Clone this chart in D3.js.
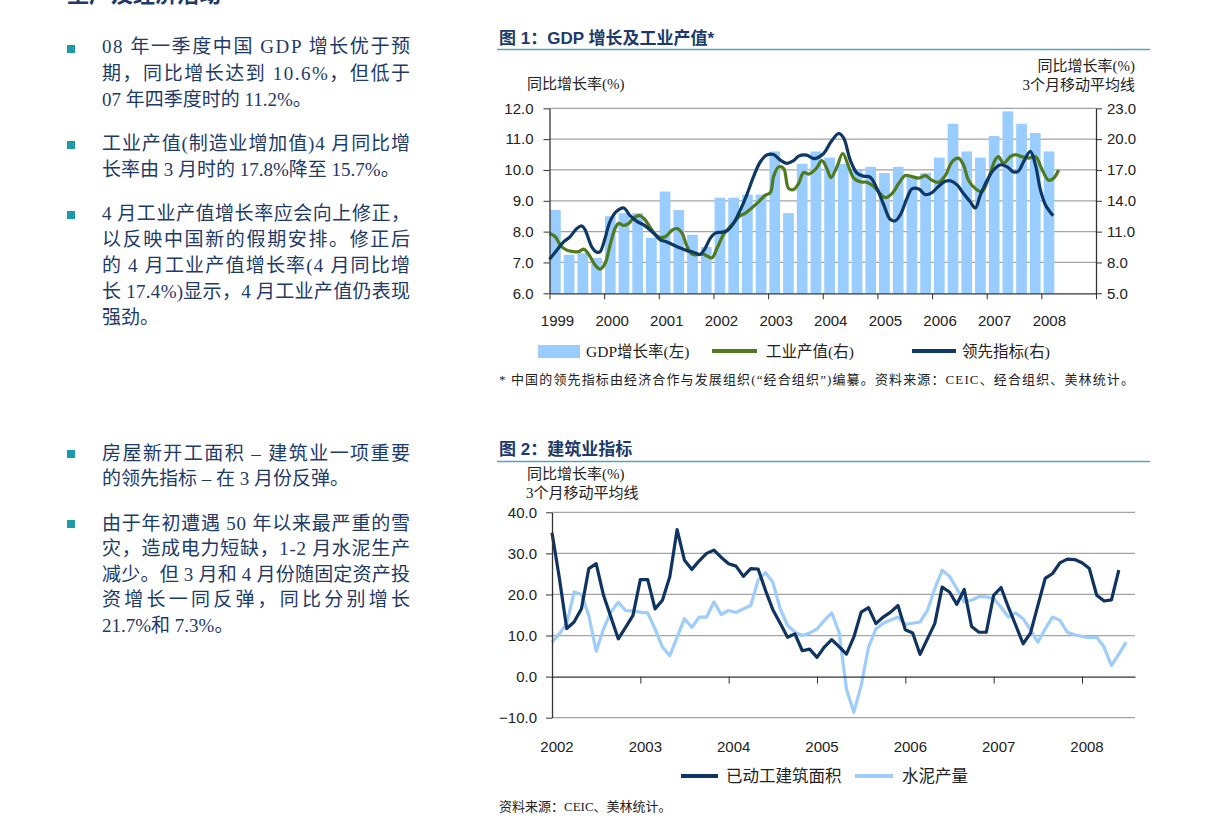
<!DOCTYPE html>
<html>
<head>
<meta charset="utf-8">
<style>
  body{ margin:0; background:#fff; }
  .body-text{ font-family:"Liberation Serif","Noto Sans CJK SC",serif; font-size:19px; fill:#1d3a68; }
  .heading{ font-family:"Noto Sans CJK SC",sans-serif; font-size:22px; font-weight:bold; fill:#1d3a68; }
  .fig-title{ font-family:"Liberation Sans Narrow","Liberation Sans","Noto Sans CJK SC",sans-serif; font-size:17px; font-weight:bold; fill:#1b3a6b; }
  .cap{ font-family:"Liberation Serif","Noto Sans CJK SC",serif; font-size:15px; fill:#222; }
  .legend{ font-family:"Liberation Serif","Noto Sans CJK SC",serif; font-size:15.5px; fill:#222; }
  .note{ font-family:"Liberation Serif","Noto Sans CJK SC",serif; font-size:13px; fill:#222; }
  .tick text, .year{ font-family:"Liberation Sans Narrow","Liberation Sans",sans-serif; font-size:15px; fill:#222; }
  .tick line{ stroke:#333; }
  .domain{ stroke:#333; }
  .grid{ stroke:#a3a3a3; stroke-width:1.2; }
</style>
<script src="https://cdn.jsdelivr.net/npm/d3@7"></script>
</head>
<body>
<svg id="page" width="1224" height="835"></svg>
<script>
// ---------- chart 1 data ----------
const years1 = ['1999','2000','2001','2002','2003','2004','2005','2006','2007','2008'];
const quarters1 = years1.flatMap(y => ['Q1','Q2','Q3','Q4'].map(q => y + q));
// GDP growth, quarterly 1999Q1 - 2008Q1 (left axis)
const gdpGrowth = [8.7, 7.25, 7.3, 7.15, 8.5, 8.6, 8.6, 7.8, 9.3, 8.7, 7.9, 7.5,
  9.1, 9.1, 9.2, 9.2, 10.6, 8.6, 10.2, 10.6, 10.4, 10.2, 10.0, 10.1,
  9.9, 10.1, 9.8, 9.9, 10.4, 11.5, 10.6, 10.4, 11.1, 11.9, 11.5, 11.2, 10.6];
// industrial output 3mma (right axis), month offset from Jan 1999
const ipMonth = [0, 1.3, 2.4, 3.8, 5.3, 6.4, 7.5, 8.6, 10.0, 11.1, 12.2, 13.3, 14.4, 15.2, 16.3, 17.4,
  18.5, 19.9, 21.0, 22.5, 23.9, 25.4, 26.9, 28.0, 29.1, 30.2, 31.3, 32.4, 33.8, 34.9, 35.7, 36.8,
  38.2, 39.3, 40.8, 41.9, 43.0, 44.4, 45.9, 47.4, 48.5, 49.2, 50.3, 51.4, 52.5, 53.6, 54.7, 55.8,
  56.9, 58.5, 59.8, 60.9, 61.8, 63.1, 64.4, 65.7, 66.8, 68.2, 69.7, 71.2, 72.6, 73.7, 75.2, 76.7,
  78.1, 79.6, 81.1, 82.5, 84.0, 85.4, 86.9, 88.4, 89.8, 90.9, 92.0, 93.5, 95.0, 96.4, 97.9, 98.6,
  99.7, 101.2, 102.3, 103.7, 105.2, 106.7, 108.2, 109.6, 110.7, 111.8];
const ipValue = [10.85, 10.5, 9.65, 9.2, 9.05, 9.05, 9.3, 8.8, 7.75, 7.35, 7.9, 9.7, 11.3, 11.8, 11.6, 11.8,
  12.35, 12.55, 12.15, 11.15, 10.5, 10.5, 11.15, 11.3, 10.85, 9.55, 8.8, 8.75, 8.8, 8.55, 8.45, 9.4,
  10.7, 11.3, 12.05, 12.55, 12.8, 13.3, 13.9, 14.55, 14.8, 16.35, 17.3, 17.15, 15.2, 15.1, 15.7, 16.75,
  16.6, 17.1, 17.9, 17.15, 16.25, 17.3, 18.6, 17.3, 16.2, 15.85, 15.8, 15.4, 14.7, 14.3, 14.7, 15.7,
  16.45, 16.35, 16.2, 16.45, 16.0, 15.8, 16.45, 17.8, 18.15, 17.5, 16.0, 15.2, 14.9, 16.2, 18.0, 18.3,
  17.65, 18.3, 18.5, 18.3, 18.15, 18.3, 17.0, 16.0, 16.2, 17.0];
// OECD leading indicator (right axis)
const leadMonth = [0, 1.6, 3.1, 4.5, 6.0, 7.1, 7.8, 9.3, 10.4, 11.1, 12.2, 13.3, 14.8, 16.3, 17.7, 19.2,
  20.7, 22.1, 23.6, 24.3, 25.8, 27.2, 28.7, 30.2, 31.6, 33.1, 34.2, 35.3, 36.4, 37.9, 39.0, 40.4,
  41.9, 43.3, 44.8, 46.3, 47.7, 49.2, 50.7, 52.1, 53.6, 54.7, 56.5, 58.0, 60.2, 61.6, 63.5, 64.6,
  66.0, 67.5, 69.0, 70.4, 71.9, 73.4, 74.8, 75.9, 77.0, 78.5, 79.6, 81.1, 82.5, 84.0, 85.4, 86.9,
  88.0, 89.5, 90.9, 92.4, 93.5, 94.6, 96.1, 97.5, 99.0, 100.5, 101.9, 103.0, 104.1, 105.6, 106.7, 107.8,
  108.9, 110.6];
const leadValue = [8.3, 9.2, 10.0, 10.5, 11.3, 11.55, 11.2, 9.5, 9.0, 9.05, 10.35, 12.0, 13.0, 13.3, 12.55, 12.0,
  11.65, 11.15, 10.5, 10.2, 10.0, 9.7, 9.4, 9.15, 9.0, 8.8, 9.4, 10.35, 10.85, 10.95, 11.1, 11.8,
  13.1, 14.55, 16.35, 17.8, 18.45, 18.5, 17.95, 17.65, 17.9, 18.35, 18.45, 18.1, 18.6, 19.6, 20.55, 20.1,
  18.0, 16.7, 16.4, 16.3, 15.2, 13.6, 12.2, 12.05, 12.6, 14.25, 15.15, 15.15, 14.6, 14.8, 15.4, 15.9,
  15.95, 15.55, 14.7, 13.9, 13.3, 14.55, 16.0, 17.0, 17.5, 17.3, 16.8, 16.9, 17.8, 18.8, 17.5, 15.05,
  13.6, 12.55];
const leftTicks1 = [6, 7, 8, 9, 10, 11, 12];
const rightTicks1 = [5, 8, 11, 14, 17, 20, 23];

// ---------- chart 2 data (monthly from Jan 2002) ----------
const years2 = ['2002','2003','2004','2005','2006','2007','2008'];
const floorSpace = [35.0, 24.0, 11.7, 13.3, 16.5, 26.3, 27.5, 19.8, 14.5, 9.2, 12.0, 14.9,
  23.6, 23.6, 16.5, 18.6, 24.3, 35.8, 28.3, 26.1, 28.2, 30.0, 30.8, 29.0,
  27.5, 26.9, 24.4, 26.3, 26.2, 21.0, 16.3, 13.0, 9.6, 10.4, 6.3, 6.7,
  4.7, 7.2, 9.0, 7.3, 5.5, 9.6, 15.7, 16.8, 12.9, 14.5, 15.7, 17.3,
  11.4, 10.6, 5.4, 9.2, 12.9, 21.8, 20.6, 17.6, 21.2, 12.2, 10.8, 10.8,
  19.8, 21.7, 16.9, 12.5, 8.0, 10.6, 17.3, 23.9, 25.1, 27.7, 28.6, 28.5,
  27.7, 26.3, 19.8, 18.4, 18.7, 25.9];
const cement = [8.4, 10.4, 12.9, 20.6, 20.0, 14.9, 6.2, 11.6, 15.7, 18.1, 16.1, 16.0,
  15.7, 15.5, 11.6, 7.2, 5.1, 9.6, 14.1, 12.0, 14.5, 14.5, 18.2, 15.1,
  16.1, 15.6, 16.5, 17.3, 23.5, 25.3, 23.0, 16.5, 12.5, 10.8, 10.0, 10.6,
  11.6, 13.7, 15.5, 10.8, -3.0, -8.7, -2.2, 7.2, 11.6, 13.0, 13.8, 14.5,
  12.7, 13.0, 13.3, 16.1, 21.4, 25.9, 24.4, 21.4, 18.2, 18.6, 19.5, 19.4,
  19.0, 16.9, 14.5, 15.5, 14.1, 11.4, 8.4, 11.6, 14.5, 13.7, 10.8, 10.2,
  9.8, 9.5, 9.6, 7.2, 2.7, 5.5, 8.4];
const ticks2 = [-10, 0, 10, 20, 30, 40];

const barBlue = '#99ccff', olive = '#4f7b1c', navy = '#0e3866', navy2 = '#0f3462', sky = '#9fcdfb';

const svg = d3.select('#page');

// ---------- left column text ----------
svg.append('text').attr('class','heading').attr('x',67).attr('y',2).text('生产及经济活动');

const TX = 102, TW = 308;
// [bullet top, [[text, baseline, justify]...]]
const paragraphs = [
  [45, [['08 年一季度中国  GDP 增长优于预', 53, true], ['期，同比增长达到  10.6%，但低于', 80, true], ['07 年四季度时的 11.2%。', 106, false]]],
  [141, [['工业产值(制造业增加值)4 月同比增', 150, true], ['长率由 3 月时的 17.8%降至 15.7%。', 176, false]]],
  [211, [['4 月工业产值增长率应会向上修正，', 220, true], ['以反映中国新的假期安排。修正后', 246, true],
         ['的 4 月工业产值增长率(4 月同比增', 272, true], ['长 17.4%)显示，4 月工业产值仍表现', 298, true], ['强劲。', 324, false]]],
  [450, [['房屋新开工面积 – 建筑业一项重要', 460, true], ['的领先指标 – 在 3 月份反弹。', 485, false]]],
  [520, [['由于年初遭遇 50 年以来最严重的雪', 530, true], ['灾，造成电力短缺，1-2 月水泥生产', 555, true],
         ['减少。但 3 月和 4 月份随固定资产投', 581, true], ['资增长一同反弹，同比分别增长', 606, true], ['21.7%和 7.3%。', 632, false]]]
];
paragraphs.forEach(([by, lines]) => {
  svg.append('rect').attr('x',67).attr('y',by).attr('width',8).attr('height',8).attr('fill','#1b9aaa');
  lines.forEach(([t, y, just]) => {
    const el = svg.append('text').attr('class','body-text').attr('x',TX).attr('y',y).text(t);
    if (just) el.attr('textLength',TW).attr('lengthAdjust','spacing');
  });
});

// ---------- chart 1 ----------
svg.append('text').attr('class','fig-title').attr('x',499).attr('y',44).text('图 1：GDP 增长及工业产值*');
svg.append('line').attr('x1',497).attr('x2',1150).attr('y1',49.5).attr('y2',49.5).attr('stroke','#4fa6b8').attr('stroke-width',1.3);

svg.append('text').attr('class','cap').attr('x',527).attr('y',89).text('同比增长率(%)');
svg.append('text').attr('class','cap').attr('x',1135).attr('y',71).attr('text-anchor','end').text('同比增长率(%)');
svg.append('text').attr('class','cap').attr('x',1135).attr('y',90).attr('text-anchor','end').text('3个月移动平均线');

const L1 = 549.5, R1 = 1096, T1 = 108.3, B1 = 293.3;
const x1 = d3.scaleLinear().domain([0, 120]).range([L1, R1]);
const xq = d3.scaleBand().domain(quarters1).range([L1, R1]).paddingInner(0.22).paddingOuter(0.04);
const y1 = d3.scaleLinear().domain([6, 12]).range([B1, T1]);
const y1r = d3.scaleLinear().domain([5, 23]).range([B1, T1]);

const g1 = svg.append('g');
g1.selectAll('line.grid').data(leftTicks1.filter(d => d > 6)).join('line')
  .attr('class','grid').attr('x1',L1).attr('x2',R1).attr('y1',d => y1(d)).attr('y2',d => y1(d));

g1.selectAll('rect.bar').data(gdpGrowth).join('rect')
  .attr('class','bar')
  .attr('x',(d,i) => xq(quarters1[i]))
  .attr('width',xq.bandwidth())
  .attr('y',d => y1(d))
  .attr('height',d => y1(6) - y1(d))
  .attr('fill',barBlue);

const lineR = d3.line().x(d => x1(d[0])).y(d => y1r(d[1])).curve(d3.curveCatmullRom.alpha(0.5));
g1.append('path').datum(ipMonth.map((m,i) => [m, ipValue[i]]))
  .attr('d',lineR).attr('fill','none').attr('stroke',olive).attr('stroke-width',3.2).attr('stroke-linejoin','round');
g1.append('path').datum(leadMonth.map((m,i) => [m, leadValue[i]]))
  .attr('d',lineR).attr('fill','none').attr('stroke',navy).attr('stroke-width',3.2).attr('stroke-linejoin','round');

g1.append('g').attr('transform',`translate(${L1},0)`)
  .call(d3.axisLeft(y1).tickValues(leftTicks1).tickSize(6).tickPadding(10).tickSizeOuter(0).tickFormat(d3.format('.1f')));
g1.append('g').attr('transform',`translate(${R1},0)`)
  .call(d3.axisRight(y1r).tickValues(rightTicks1).tickSize(6).tickPadding(5).tickSizeOuter(0).tickFormat(d3.format('.1f')));
g1.append('g').attr('transform',`translate(0,${B1})`)
  .call(d3.axisBottom(x1).tickValues(d3.range(0, 121, 12)).tickSize(6).tickSizeOuter(0).tickFormat(''));
g1.selectAll('.domain').attr('stroke-width',1.3);

g1.selectAll('text.year').data(years1).join('text')
  .attr('class','year').attr('text-anchor','middle')
  .attr('x',(d,i) => x1(i * 12) + 8).attr('y',326).text(d => d);

// legend 1
svg.append('rect').attr('x',538).attr('y',345).attr('width',42).attr('height',13).attr('fill',barBlue);
svg.append('text').attr('class','legend').attr('x',586).attr('y',357).text('GDP增长率(左)');
svg.append('line').attr('x1',712).attr('x2',757).attr('y1',351).attr('y2',351).attr('stroke',olive).attr('stroke-width',4);
svg.append('text').attr('class','legend').attr('x',766).attr('y',357).text('工业产值(右)');
svg.append('line').attr('x1',912).attr('x2',956).attr('y1',351).attr('y2',351).attr('stroke',navy).attr('stroke-width',4);
svg.append('text').attr('class','legend').attr('x',962).attr('y',357).text('领先指标(右)');

svg.append('text').attr('class','note').attr('x',499).attr('y',384)
  .attr('textLength',635).attr('lengthAdjust','spacing')
  .text('* 中国的领先指标由经济合作与发展组织(“经合组织”)编纂。资料来源：CEIC、经合组织、美林统计。');

// ---------- chart 2 ----------
svg.append('text').attr('class','fig-title').attr('x',499).attr('y',455).text('图 2：建筑业指标');
svg.append('line').attr('x1',497).attr('x2',1150).attr('y1',461.5).attr('y2',461.5).attr('stroke','#4fa6b8').attr('stroke-width',1.3);
svg.append('text').attr('class','cap').attr('x',527).attr('y',479).text('同比增长率(%)');
svg.append('text').attr('class','cap').attr('x',526).attr('y',498).text('3个月移动平均线');

const L2 = 552, R2 = 1135, T2 = 512.3, B2 = 717.7;
const x2 = d3.scaleLinear().domain([0, 79.2]).range([L2, R2]);
const y2 = d3.scaleLinear().domain([-10, 40]).range([B2, T2]);
const g2 = svg.append('g');

g2.selectAll('line.grid').data(ticks2.filter(d => d !== 0)).join('line')
  .attr('class','grid').attr('x1',L2).attr('x2',R2).attr('y1',d => y2(d)).attr('y2',d => y2(d));

const line2 = d3.line().x((d,i) => x2(i)).y(d => y2(d));
g2.append('path').datum(cement).attr('d',line2).attr('fill','none')
  .attr('stroke',sky).attr('stroke-width',3.2).attr('stroke-linejoin','round');
g2.append('path').datum(floorSpace).attr('d',line2).attr('fill','none')
  .attr('stroke',navy2).attr('stroke-width',3.2).attr('stroke-linejoin','round');

g2.append('g').attr('transform',`translate(${L2},0)`)
  .call(d3.axisLeft(y2).tickValues(ticks2).tickSize(6).tickPadding(9).tickSizeOuter(0).tickFormat(d3.format('.1f')));
g2.append('g').attr('transform',`translate(0,${y2(0)})`)
  .call(d3.axisBottom(x2).tickValues(d3.range(12, 73, 12)).tickSize(7).tickSizeOuter(0).tickFormat(''));
g2.selectAll('.domain').attr('stroke-width',1.3);

g2.selectAll('text.year').data(years2).join('text')
  .attr('class','year').attr('text-anchor','middle')
  .attr('x',(d,i) => x2(i * 12) + 5).attr('y',752).text(d => d);

// legend 2
svg.append('line').attr('x1',681).attr('x2',718).attr('y1',776).attr('y2',776).attr('stroke',navy2).attr('stroke-width',4);
svg.append('text').attr('class','legend').style('font-size','16.5px').attr('x',726).attr('y',782).text('已动工建筑面积');
svg.append('line').attr('x1',855).attr('x2',893).attr('y1',776).attr('y2',776).attr('stroke',sky).attr('stroke-width',4);
svg.append('text').attr('class','legend').style('font-size','16.5px').attr('x',902).attr('y',782).text('水泥产量');

svg.append('text').attr('class','note').attr('x',499).attr('y',811).text('资料来源：CEIC、美林统计。');
</script>
</body>
</html>
